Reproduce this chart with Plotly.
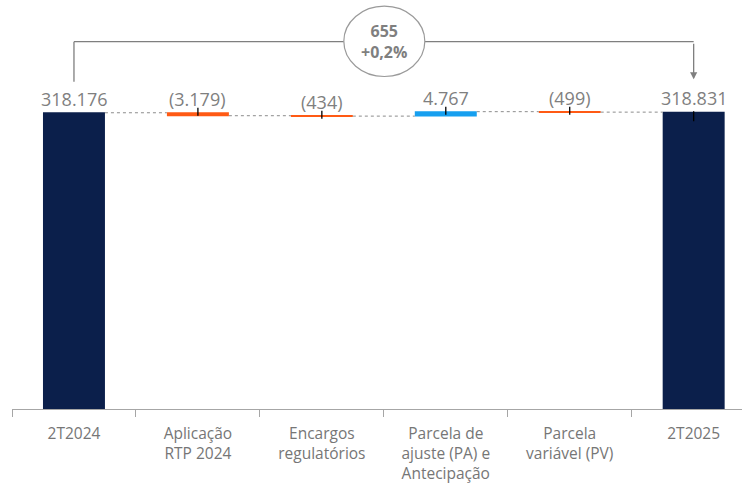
import plotly.graph_objects as go

# Receita: 2T2024 -> 2T2025 bridge
categories = ["2T2024", "Aplicação<br>RTP 2024", "Encargos<br>regulatórios",
              "Parcela de<br>ajuste (PA) e<br>Antecipação", "Parcela<br>variável (PV)", "2T2025"]
measures = ["absolute", "relative", "relative", "relative", "relative", "total"]
values = [318176, -3179, -434, 4767, -499, 318831]

NAVY = "#0B1F4B"
ORANGE = "#FF5A14"
BLUE = "#169FEF"
GRAY = "#7F7F7F"
FONT = "Open Sans"


def fmt(v):
    s = f"{abs(v):,}".replace(",", ".")
    return f"({s})" if v < 0 else s


# running levels for label placement
tops = []
level = 0
for m, v in zip(measures, values):
    if m == "absolute":
        level = v
        tops.append(v)
    elif m == "relative":
        tops.append(max(level, level + v))
        level += v
    else:
        tops.append(level)

wf_y = [v if m != "total" else 0 for m, v in zip(measures, values)]

fig = go.Figure(go.Waterfall(
    x=categories, y=wf_y, measure=measures, width=0.5,
    increasing=dict(marker=dict(color=BLUE)),
    decreasing=dict(marker=dict(color=ORANGE)),
    totals=dict(marker=dict(color=NAVY)),
    connector=dict(mode="between", line=dict(color="#8C8C8C", width=1, dash="dot")),
    textinfo="none", hoverinfo="skip",
))

annotations = []
shapes = []
for i, (c, v, t) in enumerate(zip(categories, values, tops)):
    annotations.append(dict(x=c, y=t, xref="x", yref="y", text=fmt(v), showarrow=False,
                            yanchor="bottom", yshift=0,
                            font=dict(family=FONT, size=18, color=GRAY)))
    if i > 0:
        lo, hi = (-9, 1) if i == len(categories) - 1 else (-3, 5)
        shapes.append(dict(type="line", xref="x", yref="y", x0=c, x1=c,
                           ysizemode="pixel", yanchor=t, y0=lo, y1=hi,
                           line=dict(color="black", width=1.3)))

# bracket with variation bubble
diff = values[-1] - values[0]
pct = diff / values[0] * 100
bubble = f"{diff:,}".replace(",", ".") + "<br>" + f"{pct:+.1f}%".replace(".", ",")
ybr = 0.898
shapes += [
    dict(type="line", xref="x", yref="paper", x0=0, x1=0, y0=0.80, y1=ybr,
         line=dict(color=GRAY, width=1.3)),
    dict(type="line", xref="x", yref="paper", x0=0, x1=5, y0=ybr, y1=ybr,
         line=dict(color=GRAY, width=1.3)),
    dict(type="circle", xref="x", yref="paper", xsizemode="pixel", xanchor=2.5,
         x0=-40, x1=41, y0=0.813, y1=0.985, fillcolor="white",
         line=dict(color="#9A9A9A", width=1.2)),
]
annotations += [
    dict(x=5, y=0.806, xref="x", yref="paper", ax=0, ay=-37, axref="pixel", ayref="pixel",
         text="", showarrow=True, arrowhead=2, arrowsize=1.1, arrowwidth=1.3, arrowcolor=GRAY),
    dict(x=2.5, y=0.899, xref="x", yref="paper", text=f"<b>{bubble}</b>", showarrow=False,
         xanchor="center", yanchor="middle",
         font=dict(family=FONT, size=16, color=GRAY)),
]

fig.update_layout(
    width=742, height=484, margin=dict(l=12, r=0, t=0, b=73),
    paper_bgcolor="white", plot_bgcolor="white", showlegend=False,
    shapes=shapes, annotations=annotations,
    xaxis=dict(type="category", range=[-0.5, 5.39], tickson="boundaries",
               ticks="outside", ticklen=7, tickcolor="#A6A6A6", tickwidth=1.2,
               ticklabelstandoff=10,
               showline=True, linecolor="#A6A6A6", linewidth=1.2, showgrid=False,
               tickfont=dict(family=FONT, size=15.5, color="#767676")),
    yaxis=dict(range=[0, 439270], visible=False, showgrid=False, zeroline=False),
)

fig.write_html("out.html")
